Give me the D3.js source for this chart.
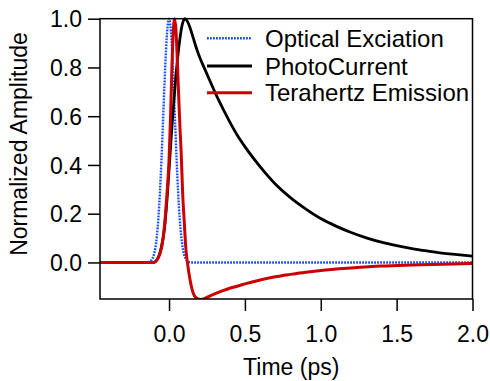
<!DOCTYPE html>
<html>
<head>
<meta charset="utf-8">
<script src="https://cdn.jsdelivr.net/npm/d3@7"></script>
<style>
  html, body { margin: 0; padding: 0; background: #fff; }
  svg { display: block; }
  text { font-family: "Liberation Sans", Arial, sans-serif; fill: #000; }
</style>
</head>
<body>
<svg id="chart" width="490" height="381"></svg>
<script>
// ---- data ----
const xTicks = [0.0, 0.5, 1.0, 1.5, 2.0];
const yTicks = [0.0, 0.2, 0.4, 0.6, 0.8, 1.0];
const seriesNames = ["Optical Exciation", "PhotoCurrent", "Terahertz Emission"];
const seriesColors = ["#1a4dff", "#000000", "#cc0000"];

const opticalT = [-0.455, -0.14, -0.12, -0.11, -0.10, -0.09, -0.08, -0.07, -0.06, -0.05, -0.04, -0.03, -0.02, -0.01, 0.0,
                  0.01, 0.02, 0.03, 0.04, 0.05, 0.06, 0.07, 0.08, 0.09, 0.10, 0.11, 0.12, 0.14, 2.0];
const opticalV = [0, 0, 0.007, 0.015, 0.031, 0.06, 0.109, 0.183, 0.288, 0.421, 0.575, 0.732, 0.871, 0.966, 1.0,
                  0.966, 0.871, 0.732, 0.575, 0.421, 0.288, 0.183, 0.109, 0.06, 0.031, 0.015, 0.007, 0, 0];

const photoT = [-0.455, -0.10, -0.08, -0.065, -0.05, -0.03, -0.012, 0.0, 0.015, 0.028, 0.046, 0.068, 0.085, 0.105,
                0.12, 0.14, 0.16, 0.18, 0.20, 0.24, 0.28, 0.32, 0.36, 0.40, 0.45, 0.50, 0.60, 0.70, 0.80, 0.90,
                1.0, 1.1, 1.2, 1.3, 1.4, 1.5, 1.6, 1.7, 1.8, 1.9, 2.0];
const photoV = [0, 0, 0.01, 0.03, 0.064, 0.14, 0.27, 0.38, 0.52, 0.63, 0.77, 0.9, 0.97, 1.0,
                0.99, 0.96, 0.92, 0.88, 0.845, 0.787, 0.73, 0.675, 0.625, 0.577, 0.522, 0.475, 0.393, 0.322, 0.266, 0.22,
                0.18, 0.149, 0.123, 0.101, 0.083, 0.069, 0.057, 0.047, 0.038, 0.032, 0.026];

const thzT = [-0.455, -0.10, -0.08, -0.06, -0.048, -0.03, -0.015, 0.0, 0.01, 0.02, 0.03, 0.035, 0.045, 0.055, 0.065,
              0.073, 0.08, 0.09, 0.10, 0.11, 0.121, 0.139, 0.16, 0.18, 0.205, 0.22, 0.25, 0.30, 0.35, 0.40, 0.50,
              0.60, 0.70, 0.80, 0.90, 1.0, 1.2, 1.4, 1.6, 1.8, 2.0];
const thzV = [0, 0, 0.01, 0.035, 0.064, 0.15, 0.27, 0.42, 0.6, 0.82, 0.97, 1.0, 0.96, 0.82, 0.66,
              0.54, 0.45, 0.28, 0.17, 0.064, 0, -0.073, -0.127, -0.146, -0.152, -0.151, -0.143, -0.129, -0.117, -0.106, -0.088,
              -0.072, -0.059, -0.049, -0.040, -0.033, -0.023, -0.015, -0.0105, -0.007, -0.0045];

// ---- layout ----
const svg = d3.select("#chart");
const mLeft = 100, mRight = 472.5, mTop = 18.7, mBottom = 299;
const x = d3.scaleLinear().domain([-0.455, 2.0]).range([mLeft, mRight]);
const y = d3.scaleLinear().domain([-0.15, 1.0]).range([mBottom, mTop]);

const font = 23;
const legendFont = 24;

// axes
const xAxis = d3.axisBottom(x).tickValues(xTicks).tickFormat(d3.format(".1f")).tickSize(12).tickPadding(15);
const yAxis = d3.axisLeft(y).tickValues(yTicks).tickFormat(d3.format(".1f")).tickSize(12).tickPadding(6);

const gx = svg.append("g").attr("transform", `translate(0,${mBottom})`).call(xAxis);
const gy = svg.append("g").attr("transform", `translate(${mLeft},0)`).call(yAxis);
[gx, gy].forEach(g => {
  g.select(".domain").remove();
  g.selectAll(".tick line").attr("stroke", "#000").attr("stroke-width", 1.5);
  g.selectAll(".tick text").attr("font-size", font).attr("font-family", "Liberation Sans, Arial, sans-serif").attr("fill", "#000");
});
gy.selectAll(".tick text").attr("dy", "0.36em");

// clip
svg.append("clipPath").attr("id", "clip").append("rect")
  .attr("x", mLeft).attr("y", mTop - 2).attr("width", mRight - mLeft).attr("height", mBottom - mTop + 2);

const line = d3.line().x(d => x(d[0])).y(d => y(d[1])).curve(d3.curveMonotoneX);
const plot = svg.append("g").attr("clip-path", "url(#clip)");

const optical = opticalT.map((t, i) => [t, opticalV[i]]);
const photo = photoT.map((t, i) => [t, photoV[i]]);
const thz = thzT.map((t, i) => [t, thzV[i]]);

plot.append("path").datum(optical).attr("d", line).attr("fill", "none")
  .attr("stroke", seriesColors[0]).attr("stroke-width", 2.4).attr("stroke-dasharray", "1.8,1.2");
plot.append("path").datum(photo).attr("d", line).attr("fill", "none")
  .attr("stroke", seriesColors[1]).attr("stroke-width", 2.8);
plot.append("path").datum(thz).attr("d", line).attr("fill", "none")
  .attr("stroke", seriesColors[2]).attr("stroke-width", 3);

// frame
svg.append("rect").attr("x", mLeft).attr("y", mTop).attr("width", mRight - mLeft).attr("height", mBottom - mTop)
  .attr("fill", "none").attr("stroke", "#000").attr("stroke-width", 1.5);

// legend
const legendY = [38.3, 66, 92.7];
const lg = svg.append("g");
seriesNames.forEach((name, i) => {
  const l = lg.append("line").attr("x1", 207).attr("x2", 252).attr("y1", legendY[i]).attr("y2", legendY[i])
    .attr("stroke", seriesColors[i]).attr("stroke-width", i === 0 ? 2.4 : 3);
  if (i === 0) l.attr("stroke-dasharray", "1.8,1.2");
  lg.append("text").attr("x", 265).attr("y", legendY[i] + 8.5).attr("font-size", legendFont).text(name);
});

// axis titles
svg.append("text").attr("x", (mLeft + mRight) / 2 + 5).attr("y", 375).attr("text-anchor", "middle")
  .attr("font-size", font).text("Time (ps)");
svg.append("text").attr("transform", `translate(26.5,144) rotate(-90)`).attr("text-anchor", "middle")
  .attr("font-size", font).text("Normalized Amplitude");
</script>
</body>
</html>
